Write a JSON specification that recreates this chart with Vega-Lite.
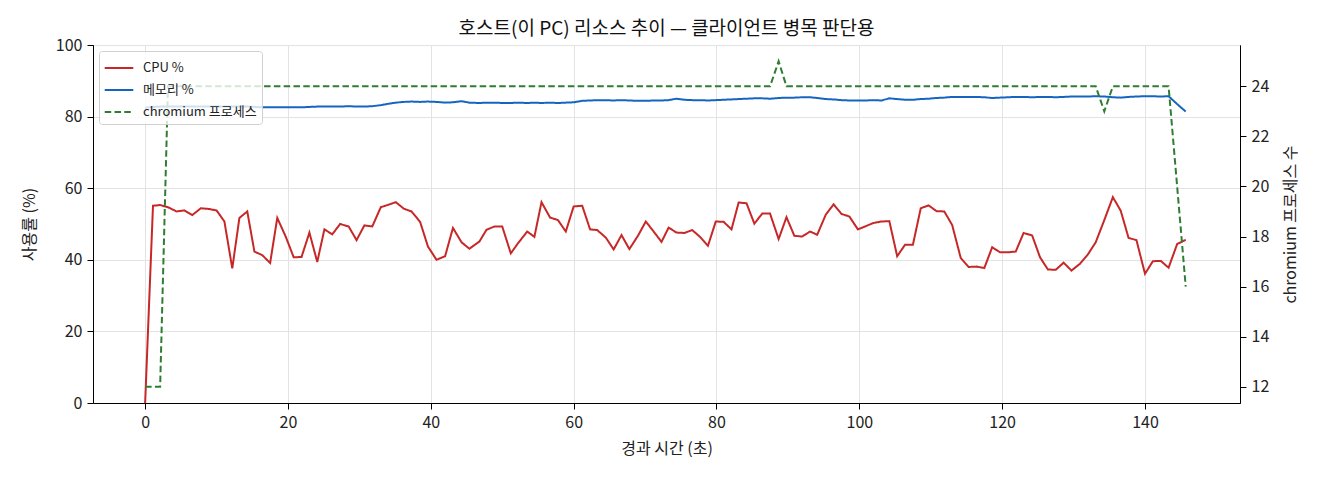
{
  "$schema": "https://vega.github.io/schema/vega-lite/v6.json",
  "description": "호스트 리소스 추이 (CPU, 메모리, chromium 프로세스 수)",
  "width": 1147,
  "height": 358,
  "autosize": {"type": "none"},
  "padding": {"left": 93, "top": 45, "right": 80, "bottom": 77},
  "title": {"text": "호스트(이 PC) 리소스 추이 — 클라이언트 병목 판단용", "fontSize": 19, "fontWeight": "normal", "color": "#111111", "offset": -2},
  "data": {
    "values": [
      {"t": 0, "cpu": 0, "mem": 82.5, "procs": 12},
      {"t": 1.1, "cpu": 55.1, "mem": 82.7, "procs": 12},
      {"t": 2.1, "cpu": 55.3, "mem": 82.8, "procs": 12},
      {"t": 3.2, "cpu": 54.7, "mem": 82.8, "procs": 24},
      {"t": 4.4, "cpu": 53.5, "mem": 82.8, "procs": 24},
      {"t": 5.5, "cpu": 53.8, "mem": 82.8, "procs": 24},
      {"t": 6.6, "cpu": 52.5, "mem": 82.8, "procs": 24},
      {"t": 7.8, "cpu": 54.4, "mem": 82.8, "procs": 24},
      {"t": 8.9, "cpu": 54.2, "mem": 82.8, "procs": 24},
      {"t": 10.0, "cpu": 53.8, "mem": 82.8, "procs": 24},
      {"t": 11.1, "cpu": 50.7, "mem": 82.8, "procs": 24},
      {"t": 12.2, "cpu": 37.6, "mem": 82.8, "procs": 24},
      {"t": 13.2, "cpu": 51.7, "mem": 82.8, "procs": 24},
      {"t": 14.3, "cpu": 53.5, "mem": 82.8, "procs": 24},
      {"t": 15.3, "cpu": 42.3, "mem": 82.7, "procs": 24},
      {"t": 16.4, "cpu": 41.3, "mem": 82.6, "procs": 24},
      {"t": 17.5, "cpu": 39.1, "mem": 82.6, "procs": 24},
      {"t": 18.5, "cpu": 51.7, "mem": 82.6, "procs": 24},
      {"t": 19.7, "cpu": 46.4, "mem": 82.6, "procs": 24},
      {"t": 20.8, "cpu": 40.7, "mem": 82.6, "procs": 24},
      {"t": 21.9, "cpu": 40.8, "mem": 82.6, "procs": 24},
      {"t": 23.0, "cpu": 47.6, "mem": 82.7, "procs": 24},
      {"t": 24.1, "cpu": 39.4, "mem": 82.8, "procs": 24},
      {"t": 25.1, "cpu": 48.5, "mem": 82.8, "procs": 24},
      {"t": 26.2, "cpu": 47.1, "mem": 82.8, "procs": 24},
      {"t": 27.3, "cpu": 50.0, "mem": 82.8, "procs": 24},
      {"t": 28.5, "cpu": 49.3, "mem": 82.9, "procs": 24},
      {"t": 29.6, "cpu": 45.5, "mem": 82.8, "procs": 24},
      {"t": 30.7, "cpu": 49.6, "mem": 82.8, "procs": 24},
      {"t": 31.8, "cpu": 49.3, "mem": 82.9, "procs": 24},
      {"t": 33.0, "cpu": 54.7, "mem": 83.2, "procs": 24},
      {"t": 34.1, "cpu": 55.4, "mem": 83.6, "procs": 24},
      {"t": 35.1, "cpu": 56.1, "mem": 83.9, "procs": 24},
      {"t": 36.2, "cpu": 54.3, "mem": 84.1, "procs": 24},
      {"t": 37.3, "cpu": 53.5, "mem": 84.2, "procs": 24},
      {"t": 38.5, "cpu": 50.6, "mem": 84.1, "procs": 24},
      {"t": 39.6, "cpu": 43.7, "mem": 84.2, "procs": 24},
      {"t": 40.8, "cpu": 40.0, "mem": 84.1, "procs": 24},
      {"t": 42.0, "cpu": 41.0, "mem": 83.9, "procs": 24},
      {"t": 43.1, "cpu": 48.9, "mem": 84.0, "procs": 24},
      {"t": 44.3, "cpu": 44.9, "mem": 84.3, "procs": 24},
      {"t": 45.4, "cpu": 43.1, "mem": 83.9, "procs": 24},
      {"t": 46.8, "cpu": 45.1, "mem": 83.8, "procs": 24},
      {"t": 47.8, "cpu": 48.4, "mem": 83.9, "procs": 24},
      {"t": 48.9, "cpu": 49.3, "mem": 83.9, "procs": 24},
      {"t": 50.0, "cpu": 49.3, "mem": 83.8, "procs": 24},
      {"t": 51.2, "cpu": 41.8, "mem": 83.8, "procs": 24},
      {"t": 52.2, "cpu": 44.6, "mem": 83.9, "procs": 24},
      {"t": 53.5, "cpu": 47.9, "mem": 83.8, "procs": 24},
      {"t": 54.5, "cpu": 46.4, "mem": 83.9, "procs": 24},
      {"t": 55.5, "cpu": 56.1, "mem": 83.8, "procs": 24},
      {"t": 56.7, "cpu": 51.8, "mem": 83.9, "procs": 24},
      {"t": 57.8, "cpu": 51.1, "mem": 83.8, "procs": 24},
      {"t": 58.9, "cpu": 47.9, "mem": 83.9, "procs": 24},
      {"t": 60.0, "cpu": 54.9, "mem": 84.0, "procs": 24},
      {"t": 61.2, "cpu": 55.1, "mem": 84.4, "procs": 24},
      {"t": 62.3, "cpu": 48.5, "mem": 84.5, "procs": 24},
      {"t": 63.3, "cpu": 48.3, "mem": 84.6, "procs": 24},
      {"t": 64.5, "cpu": 46.2, "mem": 84.6, "procs": 24},
      {"t": 65.6, "cpu": 42.9, "mem": 84.5, "procs": 24},
      {"t": 66.7, "cpu": 46.9, "mem": 84.6, "procs": 24},
      {"t": 67.8, "cpu": 43.0, "mem": 84.5, "procs": 24},
      {"t": 69.0, "cpu": 46.7, "mem": 84.4, "procs": 24},
      {"t": 70.1, "cpu": 50.7, "mem": 84.4, "procs": 24},
      {"t": 71.2, "cpu": 47.9, "mem": 84.5, "procs": 24},
      {"t": 72.3, "cpu": 45.0, "mem": 84.5, "procs": 24},
      {"t": 73.3, "cpu": 49.0, "mem": 84.6, "procs": 24},
      {"t": 74.4, "cpu": 47.6, "mem": 85.0, "procs": 24},
      {"t": 75.5, "cpu": 47.5, "mem": 84.7, "procs": 24},
      {"t": 76.6, "cpu": 48.3, "mem": 84.6, "procs": 24},
      {"t": 77.7, "cpu": 46.4, "mem": 84.6, "procs": 24},
      {"t": 78.8, "cpu": 43.9, "mem": 84.5, "procs": 24},
      {"t": 79.9, "cpu": 50.7, "mem": 84.6, "procs": 24},
      {"t": 81.0, "cpu": 50.6, "mem": 84.7, "procs": 24},
      {"t": 82.1, "cpu": 48.5, "mem": 84.8, "procs": 24},
      {"t": 83.1, "cpu": 56.0, "mem": 84.9, "procs": 24},
      {"t": 84.2, "cpu": 55.8, "mem": 85.0, "procs": 24},
      {"t": 85.3, "cpu": 50.1, "mem": 85.1, "procs": 24},
      {"t": 86.4, "cpu": 52.9, "mem": 85.1, "procs": 24},
      {"t": 87.5, "cpu": 52.9, "mem": 85.0, "procs": 24},
      {"t": 88.7, "cpu": 45.8, "mem": 85.2, "procs": 25},
      {"t": 89.8, "cpu": 51.9, "mem": 85.3, "procs": 24},
      {"t": 90.9, "cpu": 46.7, "mem": 85.3, "procs": 24},
      {"t": 92.0, "cpu": 46.5, "mem": 85.4, "procs": 24},
      {"t": 93.1, "cpu": 47.9, "mem": 85.4, "procs": 24},
      {"t": 94.1, "cpu": 47.0, "mem": 85.2, "procs": 24},
      {"t": 95.3, "cpu": 52.6, "mem": 84.9, "procs": 24},
      {"t": 96.4, "cpu": 55.5, "mem": 84.8, "procs": 24},
      {"t": 97.5, "cpu": 52.8, "mem": 84.6, "procs": 24},
      {"t": 98.6, "cpu": 52.1, "mem": 84.5, "procs": 24},
      {"t": 99.8, "cpu": 48.5, "mem": 84.5, "procs": 24},
      {"t": 100.9, "cpu": 49.4, "mem": 84.5, "procs": 24},
      {"t": 102.0, "cpu": 50.3, "mem": 84.6, "procs": 24},
      {"t": 103.1, "cpu": 50.7, "mem": 84.5, "procs": 24},
      {"t": 104.2, "cpu": 50.8, "mem": 85.1, "procs": 24},
      {"t": 105.3, "cpu": 41.0, "mem": 84.9, "procs": 24},
      {"t": 106.4, "cpu": 44.2, "mem": 84.7, "procs": 24},
      {"t": 107.5, "cpu": 44.2, "mem": 84.7, "procs": 24},
      {"t": 108.6, "cpu": 54.4, "mem": 84.9, "procs": 24},
      {"t": 109.7, "cpu": 55.2, "mem": 85.0, "procs": 24},
      {"t": 110.8, "cpu": 53.6, "mem": 85.2, "procs": 24},
      {"t": 111.9, "cpu": 53.5, "mem": 85.3, "procs": 24},
      {"t": 113.0, "cpu": 49.7, "mem": 85.5, "procs": 24},
      {"t": 114.2, "cpu": 40.5, "mem": 85.5, "procs": 24},
      {"t": 115.3, "cpu": 38.0, "mem": 85.5, "procs": 24},
      {"t": 116.4, "cpu": 38.1, "mem": 85.5, "procs": 24},
      {"t": 117.5, "cpu": 37.7, "mem": 85.4, "procs": 24},
      {"t": 118.6, "cpu": 43.5, "mem": 85.2, "procs": 24},
      {"t": 119.7, "cpu": 42.1, "mem": 85.3, "procs": 24},
      {"t": 120.8, "cpu": 42.1, "mem": 85.4, "procs": 24},
      {"t": 121.9, "cpu": 42.3, "mem": 85.5, "procs": 24},
      {"t": 123.0, "cpu": 47.5, "mem": 85.5, "procs": 24},
      {"t": 124.2, "cpu": 46.8, "mem": 85.4, "procs": 24},
      {"t": 125.3, "cpu": 40.7, "mem": 85.5, "procs": 24},
      {"t": 126.4, "cpu": 37.3, "mem": 85.5, "procs": 24},
      {"t": 127.5, "cpu": 37.2, "mem": 85.4, "procs": 24},
      {"t": 128.6, "cpu": 39.2, "mem": 85.5, "procs": 24},
      {"t": 129.7, "cpu": 37.0, "mem": 85.6, "procs": 24},
      {"t": 130.9, "cpu": 38.9, "mem": 85.6, "procs": 24},
      {"t": 132.0, "cpu": 41.5, "mem": 85.6, "procs": 24},
      {"t": 133.1, "cpu": 44.9, "mem": 85.7, "procs": 24},
      {"t": 134.3, "cpu": 51.1, "mem": 85.6, "procs": 23},
      {"t": 135.5, "cpu": 57.5, "mem": 85.4, "procs": 24},
      {"t": 136.6, "cpu": 53.7, "mem": 85.3, "procs": 24},
      {"t": 137.7, "cpu": 46.1, "mem": 85.5, "procs": 24},
      {"t": 138.8, "cpu": 45.5, "mem": 85.6, "procs": 24},
      {"t": 140.0, "cpu": 36.1, "mem": 85.7, "procs": 24},
      {"t": 141.1, "cpu": 39.6, "mem": 85.7, "procs": 24},
      {"t": 142.2, "cpu": 39.7, "mem": 85.6, "procs": 24},
      {"t": 143.3, "cpu": 37.8, "mem": 85.7, "procs": 24},
      {"t": 144.5, "cpu": 44.4, "mem": 83.5, "procs": 20},
      {"t": 145.7, "cpu": 45.6, "mem": 81.4, "procs": 16}
    ]
  },
  "transform": [{"fold": ["cpu", "mem", "procs"], "as": ["series", "value"]}],
  "encoding": {
    "x": {
      "field": "t",
      "type": "quantitative",
      "scale": {"domain": [-7.3, 153.3], "nice": false, "zero": false},
      "axis": {"title": "경과 시간 (초)", "values": [0, 20, 40, 60, 80, 100, 120, 140], "titlePadding": 10}
    },
    "color": {
      "field": "series",
      "type": "nominal",
      "scale": {"domain": ["cpu", "mem", "procs"], "range": ["#c62828", "#1565c0", "#2e7d32"]},
      "legend": {"labelExpr": "datum.label == 'cpu' ? 'CPU %' : datum.label == 'mem' ? '메모리 %' : 'chromium 프로세스'"}
    },
    "strokeDash": {
      "field": "series",
      "type": "nominal",
      "scale": {"domain": ["cpu", "mem", "procs"], "range": [[1, 0], [1, 0], [6.5, 3.3]]},
      "legend": {"labelExpr": "datum.label == 'cpu' ? 'CPU %' : datum.label == 'mem' ? '메모리 %' : 'chromium 프로세스'"}
    }
  },
  "layer": [
    {
      "transform": [{"filter": "datum.series != 'procs'"}],
      "mark": {"type": "line", "strokeWidth": 2},
      "encoding": {
        "y": {
          "field": "value",
          "type": "quantitative",
          "scale": {"domain": [0, 100], "nice": false},
          "axis": {"title": "사용률 (%)", "values": [0, 20, 40, 60, 80, 100], "titlePadding": 18}
        }
      }
    },
    {
      "transform": [{"filter": "datum.series == 'procs'"}],
      "mark": {"type": "line", "strokeWidth": 2},
      "encoding": {
        "y": {
          "field": "value",
          "type": "quantitative",
          "scale": {"domain": [11.35, 25.65], "nice": false, "zero": false},
          "axis": {"title": "chromium 프로세스 수", "orient": "right", "grid": false, "values": [12, 14, 16, 18, 20, 22, 24], "titleAngle": 270, "titleBaseline": "top", "titlePadding": 14}
        }
      }
    }
  ],
  "resolve": {"scale": {"y": "independent"}},
  "config": {
    "font": "Noto Sans CJK KR",
    "view": {"stroke": "#000000", "strokeWidth": 1},
    "axis": {
      "domainColor": "#000000",
      "tickColor": "#000000",
      "tickSize": 6,
      "labelFontSize": 16,
      "labelColor": "#222222",
      "labelPadding": 5,
      "titleFontSize": 16,
      "titleFontWeight": "normal",
      "titleColor": "#222222",
      "gridColor": "#e3e3e3",
      "gridWidth": 1
    },
    "legend": {
      "title": null,
      "orient": "top-left",
      "offset": 6,
      "padding": 5,
      "fillColor": "rgba(255,255,255,0.8)",
      "strokeColor": "#d0d0d0",
      "cornerRadius": 3,
      "labelFontSize": 13,
      "labelColor": "#222222",
      "symbolType": "M-1.3,0H1.3",
      "symbolSize": 484,
      "symbolStrokeWidth": 2,
      "symbolOffset": 3,
      "rowPadding": 3,
      "labelOffset": 12
    }
  }
}
